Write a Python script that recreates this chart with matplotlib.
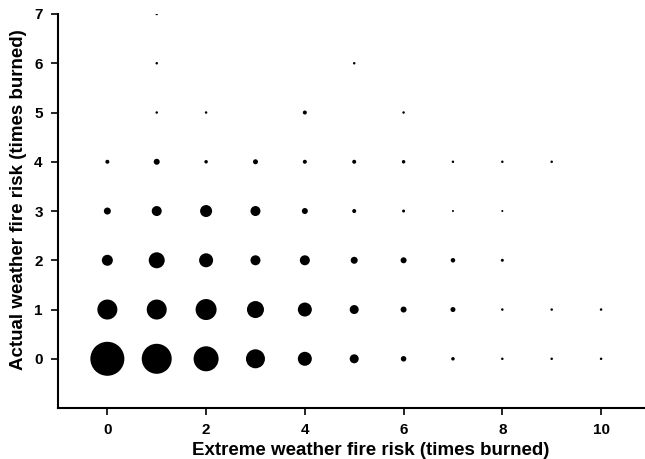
import numpy as np
import matplotlib
matplotlib.use('Agg')
import matplotlib.pyplot as plt

# relative frequency of cells (read as dot diameter, px) for each actual-weather row
extreme_vals = list(range(11))
row0 = [34, 30, 25, 19, 14, 9, 5.5, 3.5, 2.5, 2.5, 2.5]
row1 = [20, 20, 21, 17, 14, 9, 6, 5, 2.5, 2.5, 2.5]
row2 = [11, 16, 14, 10, 10, 7, 6, 4.5, 3]
row3 = [7, 10, 12, 10, 6, 4, 3, 2, 2]
row4 = [4, 6, 3.5, 5, 4, 4, 3.5, 2.5, 2.5, 2.5]
row5 = {1: 2.5, 2: 2.5, 4: 4, 6: 2.5}
row6 = {1: 2.5, 5: 2.5}
row7 = {1: 2.5}

xs, ys, ds = [], [], []
for y, row in enumerate([row0, row1, row2, row3, row4]):
    for x, d in zip(extreme_vals, row):
        xs.append(x); ys.append(y); ds.append(d)
for y, row in zip([5, 6, 7], [row5, row6, row7]):
    for x, d in row.items():
        xs.append(x); ys.append(y); ds.append(d)

ds = np.array(ds)
sizes = (ds * 0.72) ** 2

plt.rcParams['font.family'] = ['Liberation Sans', 'DejaVu Sans']
plt.rcParams['font.weight'] = 'bold'

fig = plt.figure(figsize=(6.45, 4.59), dpi=100)
ax = fig.add_axes([0.0899, 0.111, 0.9101, 0.8585])
ax.scatter(xs, ys, s=sizes, color='black', linewidths=0)

ax.set_xlim(-1, 10.89)
ax.set_ylim(-1, 7)
ax.set_xticks([0, 2, 4, 6, 8, 10])
ax.set_yticks(range(8))
ax.spines['top'].set_visible(False)
ax.spines['right'].set_visible(False)
for sp in ['left', 'bottom']:
    ax.spines[sp].set_linewidth(1.5)
ax.tick_params(width=1.2, length=5, labelsize=11, pad=6)
for lab in ax.get_xticklabels() + ax.get_yticklabels():
    lab.set_fontweight('bold')

ax.set_xlabel('Extreme weather fire risk (times burned)', fontsize=13.5, fontweight='bold')
ax.xaxis.set_label_coords(0.533, -0.085)
ax.set_ylabel('Actual weather fire risk (times burned)', fontsize=13.5, fontweight='bold')
ax.yaxis.set_label_coords(-0.052, 0.53)

fig.savefig('out.png', dpi=100)
